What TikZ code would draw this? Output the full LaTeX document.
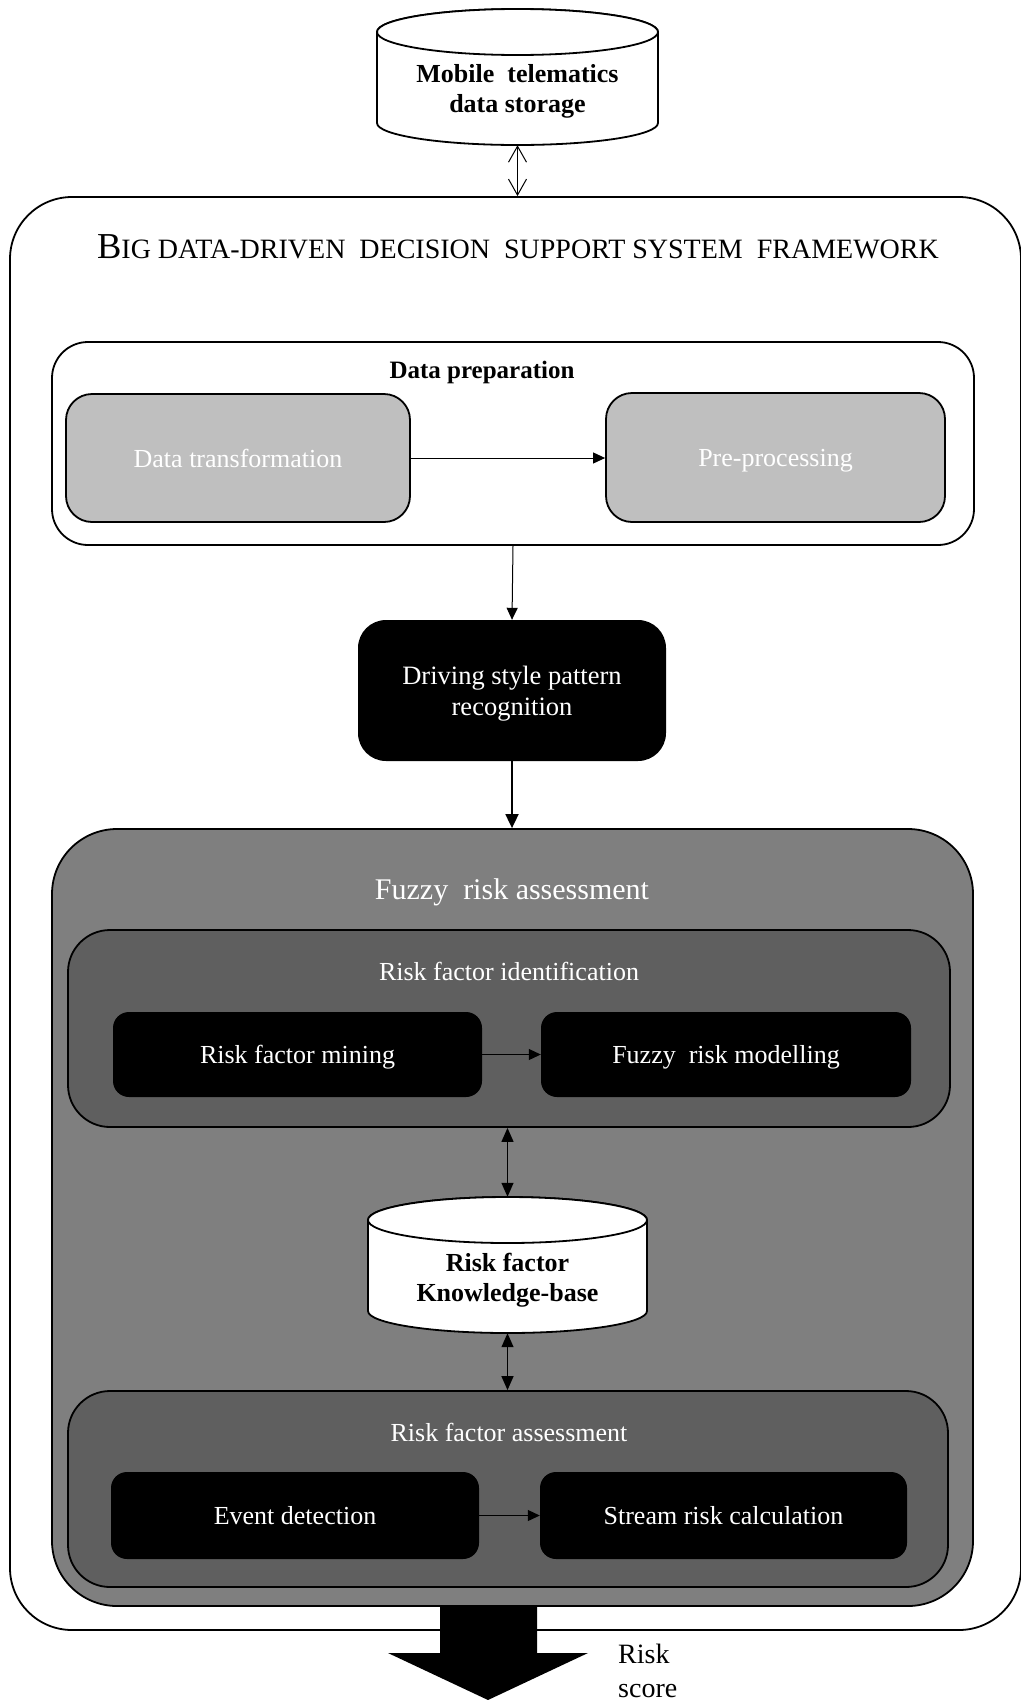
\documentclass[tikz,border=0pt]{standalone}
\usepackage{fontspec}
\setmainfont{Liberation Serif}
\usetikzlibrary{arrows.meta}

\definecolor{lightfill}{HTML}{BFBFBF}
\definecolor{midfill}{HTML}{7F7F7F}
\definecolor{darkfill}{HTML}{5F5F5F}

\tikzset{
  panel/.style={draw=black, line width=1.8pt, rectangle, inner sep=0pt},
  lightbox/.style={panel, fill=lightfill, rounded corners=26pt, text=white,
    text height=18pt, text depth=0pt, font=\fontsize{26}{30}\selectfont},
  blackbox/.style={rectangle, fill=black, inner sep=0pt, rounded corners=16pt,
    text=white, text height=18pt, text depth=0pt, font=\fontsize{26}{30}\selectfont},
  boxtitle/.style={inner sep=0pt, text=white, font=\fontsize{26}{30}\selectfont},
  dbtext/.style={inner sep=0pt, align=center, font=\bfseries\fontsize{26}{30}\selectfont},
  flow/.style={line width=1pt, -{Triangle[length=12pt,width=11pt]}},
  thickflow/.style={line width=1.8pt, -{Triangle[length=14pt,width=13pt]}},
  twoway/.style={line width=1.3pt, {Triangle[length=14pt,width=12pt]}-{Triangle[length=14pt,width=12pt]}},
  openway/.style={line width=1pt, {Straight Barb[length=16pt,width=18pt]}-{Straight Barb[length=16pt,width=18pt]}},
  dbshape/.style={draw=black, line width=1.8pt, fill=white}
}

\begin{document}
\begin{tikzpicture}[x=1pt,y=-1pt]
\useasboundingbox (0,0) rectangle (1020,1700);

% outer framework panel
\node[panel, fill=white, rounded corners=62pt, minimum width=1011pt, minimum height=1433pt]
  (frame) at (515.5,913.5) {};
\node[inner sep=0pt] (frametitle) at (518,247)
  {{\fontsize{36.5}{42}\selectfont B}{\fontsize{28}{32}\selectfont IG DATA-DRIVEN\ \ DECISION\ \ SUPPORT SYSTEM\ \ FRAMEWORK}};

% telematics data store (cylinder)
\draw[dbshape] (377,32) -- (377,123)
  arc[start angle=180, end angle=0, x radius=140.5, y radius=22] -- (658,32)
  arc[start angle=0, end angle=-180, x radius=140.5, y radius=23] -- cycle;
\draw[dbshape] (517.5,32) ellipse[x radius=140.5, y radius=23];
\node[inner sep=0pt, minimum width=281pt, minimum height=136pt] (mts) at (517.5,77) {};
\node[dbtext] (mtstext) at (517.5,91) {Mobile\ \ telematics\\data storage};

% data preparation
\node[panel, fill=white, rounded corners=36pt, minimum width=922pt, minimum height=203pt]
  (dp) at (513,443.5) {};
\node[inner sep=0pt, font=\bfseries\fontsize{25}{30}\selectfont] (dptitle) at (482,372) {Data preparation};
\node[lightbox, minimum width=344pt, minimum height=128pt] (dt) at (238,458) {Data transformation};
\node[lightbox, minimum width=339pt, minimum height=129pt] (pp) at (775.5,457.5) {Pre-processing};

% pattern recognition
\node[blackbox, rounded corners=28pt, minimum width=308pt, minimum height=141pt] (drv) at (512,690.5) {};
\node[inner sep=0pt, align=center, text=white, font=\fontsize{26.5}{31}\selectfont]
  (drvtext) at (512,694) {Driving style pattern\\recognition};

% fuzzy risk assessment
\node[panel, fill=midfill, rounded corners=65pt, minimum width=921pt, minimum height=777pt]
  (fuzzy) at (512.5,1217.5) {};
\node[boxtitle, font=\fontsize{30}{34}\selectfont] (fuzzytitle) at (512,892) {Fuzzy\ \ risk assessment};

\node[panel, fill=darkfill, rounded corners=42pt, minimum width=882pt, minimum height=197pt]
  (rfi) at (509,1028.5) {};
\node[boxtitle] (rfititle) at (509,971) {Risk factor identification};
\node[blackbox, minimum width=369pt, minimum height=85pt] (rfm) at (297.5,1054.5) {Risk factor mining};
\node[blackbox, minimum width=370pt, minimum height=85pt] (frm) at (726,1054.5) {Fuzzy\ \ risk modelling};

% knowledge base (cylinder)
\draw[dbshape] (368,1220) -- (368,1311)
  arc[start angle=180, end angle=0, x radius=139.5, y radius=22] -- (647,1220)
  arc[start angle=0, end angle=-180, x radius=139.5, y radius=23] -- cycle;
\draw[dbshape] (507.5,1220) ellipse[x radius=139.5, y radius=23];
\node[inner sep=0pt, minimum width=279pt, minimum height=136pt] (kb) at (507.5,1265) {};
\node[dbtext] (kbtext) at (507.5,1280) {Risk factor\\Knowledge-base};

\node[panel, fill=darkfill, rounded corners=42pt, minimum width=880pt, minimum height=196pt]
  (rfa) at (508,1489) {};
\node[boxtitle] (rfatitle) at (509,1432) {Risk factor assessment};
\node[blackbox, minimum width=368pt, minimum height=87pt] (ed) at (295,1515.5) {Event detection};
\node[blackbox, minimum width=367pt, minimum height=87pt] (src) at (723.5,1515.5) {Stream risk calculation};

% connectors
\draw[openway] (mts.south) -- (mts.south |- frame.north);
\draw[flow] (dt.east) -- (pp.west |- dt.east);
\draw[flow] (dp.south) -- (drv.north);
\draw[thickflow] (drv.south) -- (drv.south |- fuzzy.north);
\draw[flow] (rfm.east) -- (frm.west);
\draw[twoway] (rfi.south -| kb.north) -- (kb.north);
\draw[twoway] (kb.south) -- (kb.south |- rfa.north);
\draw[flow] (ed.east) -- (src.west);

% risk score output arrow
\fill[black] (440,1607) -- (537,1607) -- (537,1653) -- (588,1653) -- (488,1700)
  -- (388,1653) -- (440,1653) -- cycle;
\node[anchor=base west, inner sep=0pt, font=\fontsize{28}{34}\selectfont] (risk) at (618,1663) {Risk};
\node[anchor=base west, inner sep=0pt, font=\fontsize{28}{34}\selectfont] (score) at (618,1697) {score};
\end{tikzpicture}
\end{document}
